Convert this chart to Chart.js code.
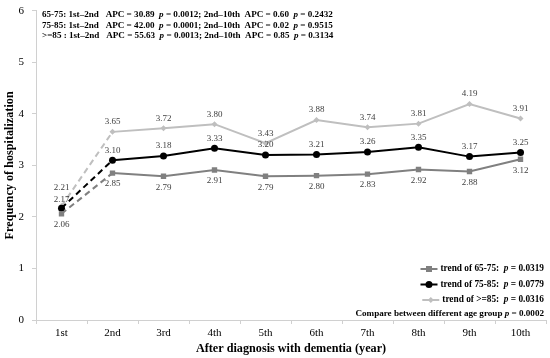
<!DOCTYPE html>
<html lang="en">
<head>
  <meta charset="UTF-8" />
  <title>Frequency of hospitalization</title>
  <script src="https://cdn.jsdelivr.net/npm/chart.js"></script>
  <style>
    html, body { margin: 0; padding: 0; background: #fff; }
    #wrap { width: 550px; height: 358px; position: relative; }
  </style>
</head>
<body>
  <div id="wrap"><canvas id="chart"></canvas></div>

  <script>
    const years = ['1st', '2nd', '3rd', '4th', '5th', '6th', '7th', '8th', '9th', '10th'];
    const age6575 = [2.06, 2.85, 2.79, 2.91, 2.79, 2.80, 2.83, 2.92, 2.88, 3.12];
    const age7585 = [2.17, 3.10, 3.18, 3.33, 3.20, 3.21, 3.26, 3.35, 3.17, 3.25];
    const age85 = [2.21, 3.65, 3.72, 3.80, 3.43, 3.88, 3.74, 3.81, 4.19, 3.91];
    const yTicks = [0, 1, 2, 3, 4, 5, 6];

    // APC notes, odd parts are drawn in italic
    const apcLines = [
      ['65-75: 1st\u20132nd   APC = 30.89  ', 'p', ' = 0.0012; 2nd\u201310th  APC = 0.60  ', 'p', ' = 0.2432'],
      ['75-85: 1st\u20132nd   APC = 42.00  ', 'p', ' = 0.0001; 2nd\u201310th  APC = 0.02  ', 'p', ' = 0.9515'],
      ['>=85 : 1st\u20132nd   APC = 55.63  ', 'p', ' = 0.0013; 2nd\u201310th  APC = 0.85  ', 'p', ' = 0.3134']
    ];
    const legendLines = [
      ['trend of 65-75:  ', 'p', ' = 0.0319'],
      ['trend of 75-85:  ', 'p', ' = 0.0779'],
      ['trend of >=85:  ', 'p', ' = 0.0316']
    ];
    const compareLine = ['Compare between different age group ', 'p', ' = 0.0002'];

    const SERIF = '"Liberation Serif", "Times New Roman", serif';
    const series = [
      { label: '65-75', data: age6575, color: '#808080', style: 'rect', r: 3.8, below: true },
      { label: '75-85', data: age7585, color: '#000000', style: 'circle', r: 3.5, below: false },
      { label: '>=85', data: age85, color: '#bfbfbf', style: 'rectRot', r: 3, below: false }
    ];

    // draws a line of text where odd parts are italic
    function drawMixed(ctx, parts, x, y, size, align) {
      const fonts = parts.map((p, i) => (i % 2 ? 'italic bold ' : 'bold ') + size + 'px ' + SERIF);
      let total = 0;
      const widths = parts.map((p, i) => { ctx.font = fonts[i]; const w = ctx.measureText(p).width; total += w; return w; });
      let cx = align === 'right' ? x - total : x;
      ctx.textAlign = 'left';
      ctx.textBaseline = 'middle';
      parts.forEach((p, i) => {
        ctx.font = fonts[i];
        ctx.fillText(p, cx, y);
        cx += widths[i];
      });
      return total;
    }

    const extras = {
      id: 'extras',
      afterDatasetsDraw(chart) {
        const ctx = chart.ctx;
        ctx.save();
        // value labels
        ctx.font = '9px ' + SERIF;
        ctx.fillStyle = '#404040';
        ctx.textAlign = 'center';
        ctx.textBaseline = 'middle';
        chart.data.datasets.forEach((ds, di) => {
          const meta = chart.getDatasetMeta(di);
          meta.data.forEach((pt, i) => {
            let dy = series[di].below ? 11 : -10;
            if (i === 0 && di === 1) dy = -9;
            if (i === 0 && di === 2) dy = -18;
            ctx.fillText(ds.data[i].toFixed(2), pt.x, pt.y + dy);
          });
        });

        // APC notes
        ctx.fillStyle = '#000';
        apcLines.forEach((parts, k) => drawMixed(ctx, parts, 42, 15 + k * 10.5, 9.1, 'left'));

        // legend
        const right = 544;
        legendLines.forEach((parts, k) => {
          const y = 269 + k * 15.5;
          ctx.fillStyle = '#000';
          const w = drawMixed(ctx, parts, right, y, 9.3, 'right');
          const x1 = right - w - 3, x0 = x1 - 17;
          const s = series[k];
          ctx.strokeStyle = s.color;
          ctx.lineWidth = 2;
          ctx.beginPath(); ctx.moveTo(x0, y); ctx.lineTo(x1, y); ctx.stroke();
          ctx.fillStyle = s.color;
          const mx = (x0 + x1) / 2;
          if (s.style === 'rect') ctx.fillRect(mx - 3, y - 3, 6, 6);
          else if (s.style === 'circle') { ctx.beginPath(); ctx.arc(mx, y, 3.5, 0, Math.PI * 2); ctx.fill(); }
          else { ctx.beginPath(); ctx.moveTo(mx, y - 3); ctx.lineTo(mx + 3, y); ctx.lineTo(mx, y + 3); ctx.lineTo(mx - 3, y); ctx.closePath(); ctx.fill(); }
        });
        ctx.fillStyle = '#000';
        drawMixed(ctx, compareLine, right, 314, 9.1, 'right');
        ctx.restore();
      }
    };

    new Chart(document.getElementById('chart'), {
      type: 'line',
      data: {
        labels: years,
        datasets: series.map(s => ({
          label: s.label,
          data: s.data,
          borderColor: s.color,
          backgroundColor: s.color,
          borderWidth: 2,
          pointStyle: s.style,
          pointRadius: s.r,
          pointBorderWidth: 0,
          pointHoverRadius: s.r,
          tension: 0,
          segment: {
            borderDash: c => c.p0DataIndex === 0 ? [6, 4] : undefined
          }
        }))
      },
      options: {
        responsive: true,
        maintainAspectRatio: false,
        animation: false,
        layout: { padding: { top: 8, right: 4, left: 0, bottom: 0 } },
        plugins: { legend: { display: false }, tooltip: { enabled: false } },
        scales: {
          x: {
            offset: true,
            grid: { display: true, drawOnChartArea: false, offset: true, tickLength: 4, color: '#d0d0d0' },
            border: { color: '#d0d0d0', width: 1 },
            ticks: { color: '#000', font: { family: SERIF, size: 11 }, padding: 3, maxRotation: 0 },
            title: {
              display: true,
              text: 'After diagnosis with dementia (year)',
              color: '#000',
              font: { family: SERIF, size: 12.2, weight: 'bold' },
              padding: { top: 0, bottom: 2 }
            },
            afterFit: s => { s.height = 38; }
          },
          y: {
            min: 0,
            max: 6,
            afterBuildTicks: s => { s.ticks = yTicks.map(v => ({ value: v })); },
            grid: { display: true, drawOnChartArea: false, tickLength: 4, color: '#d0d0d0' },
            border: { color: '#d0d0d0', width: 1 },
            ticks: { color: '#000', font: { family: SERIF, size: 11, lineHeight: 0.5 }, padding: 8 },
            title: {
              display: true,
              text: 'Frequency of hospitalization',
              color: '#000',
              font: { family: SERIF, size: 12.2, weight: 'bold' },
              padding: { top: 3, bottom: 0 }
            },
            afterFit: s => { s.width = 36; }
          }
        }
      },
      plugins: [extras]
    });
  </script>
</body>
</html>
